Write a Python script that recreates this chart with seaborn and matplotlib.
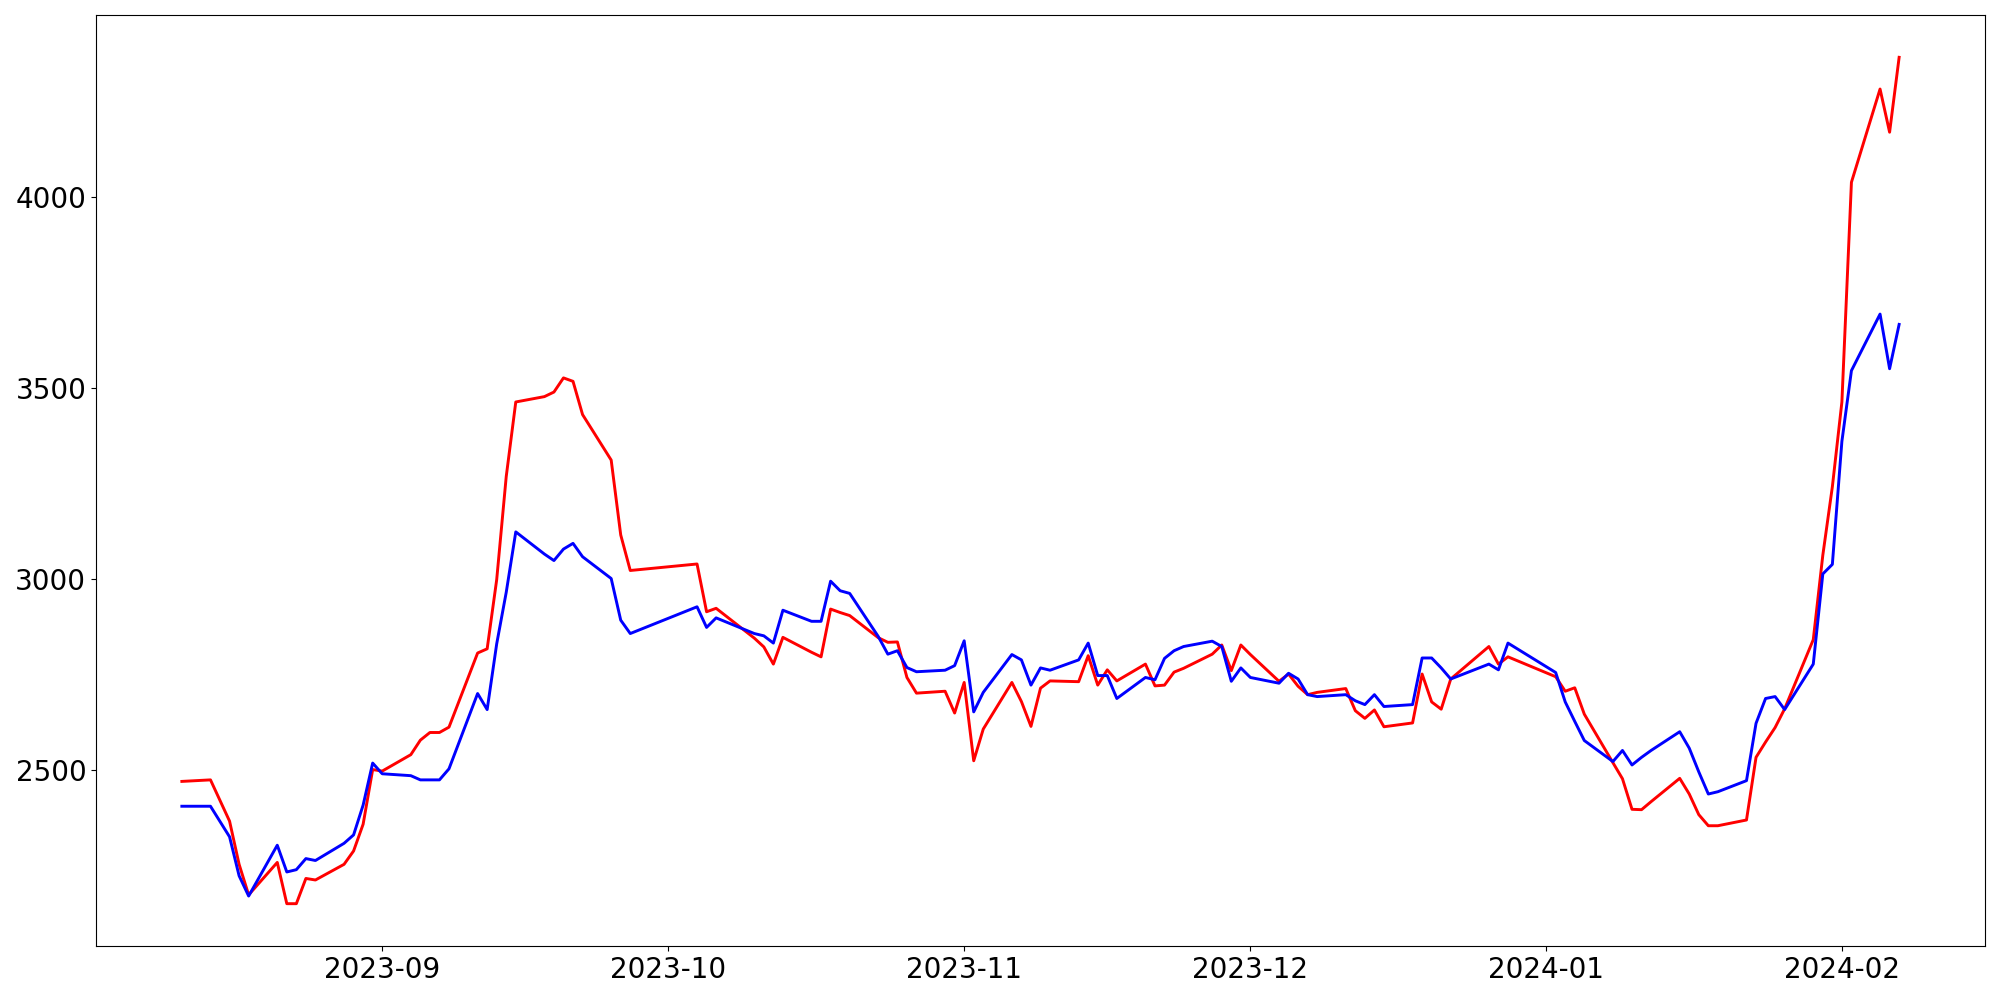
import pandas as pd
import seaborn as sns
import matplotlib.pyplot as plt

dates = [
    "2023-08-11", "2023-08-14", "2023-08-16", "2023-08-17", "2023-08-18",
    "2023-08-21", "2023-08-22", "2023-08-23", "2023-08-24", "2023-08-25",
    "2023-08-28", "2023-08-29", "2023-08-30", "2023-08-31", "2023-09-01",
    "2023-09-04", "2023-09-05", "2023-09-06", "2023-09-07", "2023-09-08",
    "2023-09-11", "2023-09-12", "2023-09-13", "2023-09-14", "2023-09-15",
    "2023-09-18", "2023-09-19", "2023-09-20", "2023-09-21", "2023-09-22",
    "2023-09-25", "2023-09-26", "2023-09-27", "2023-10-04", "2023-10-05",
    "2023-10-06", "2023-10-10", "2023-10-11", "2023-10-12", "2023-10-13",
    "2023-10-16", "2023-10-17", "2023-10-18", "2023-10-19", "2023-10-20",
    "2023-10-23", "2023-10-24", "2023-10-25", "2023-10-26", "2023-10-27",
    "2023-10-30", "2023-10-31", "2023-11-01", "2023-11-02", "2023-11-03",
    "2023-11-06", "2023-11-07", "2023-11-08", "2023-11-09", "2023-11-10",
    "2023-11-13", "2023-11-14", "2023-11-15", "2023-11-16", "2023-11-17",
    "2023-11-20", "2023-11-21", "2023-11-22", "2023-11-23", "2023-11-24",
    "2023-11-27", "2023-11-28", "2023-11-29", "2023-11-30", "2023-12-01",
    "2023-12-04", "2023-12-05", "2023-12-06", "2023-12-07", "2023-12-08",
    "2023-12-11", "2023-12-12", "2023-12-13", "2023-12-14", "2023-12-15",
    "2023-12-18", "2023-12-19", "2023-12-20", "2023-12-21", "2023-12-22",
    "2023-12-26", "2023-12-27", "2023-12-28", "2024-01-02", "2024-01-03",
    "2024-01-04", "2024-01-05", "2024-01-08", "2024-01-09", "2024-01-10",
    "2024-01-11", "2024-01-12", "2024-01-15", "2024-01-16", "2024-01-17",
    "2024-01-18", "2024-01-19", "2024-01-22", "2024-01-23", "2024-01-24",
    "2024-01-25", "2024-01-26", "2024-01-29", "2024-01-30", "2024-01-31",
    "2024-02-01", "2024-02-02", "2024-02-05", "2024-02-06", "2024-02-07",
]

red_values = [
    2470, 2474, 2366, 2253, 2173,
    2258, 2150, 2150, 2216, 2212,
    2253, 2288, 2358, 2501, 2497,
    2540, 2578, 2598, 2598, 2612,
    2806, 2817, 2998, 3268, 3463,
    3477, 3489, 3526, 3517, 3430,
    3311, 3115, 3022, 3039, 2914,
    2923, 2845, 2822, 2777, 2847,
    2808, 2796, 2921, 2912, 2904,
    2846, 2834, 2835, 2742, 2701,
    2706, 2649, 2729, 2524, 2607,
    2729, 2679, 2614, 2714, 2733,
    2731, 2799, 2722, 2762, 2733,
    2777, 2720, 2722, 2756, 2766,
    2803, 2827, 2760, 2827, 2802,
    2732, 2751, 2719, 2697, 2703,
    2713, 2655, 2635, 2657, 2613,
    2623, 2751, 2678, 2659, 2738,
    2823, 2777, 2796, 2744, 2706,
    2715, 2646, 2519, 2477, 2397,
    2396, 2417, 2478, 2437, 2383,
    2354, 2354, 2369, 2533, 2573,
    2611, 2660, 2841, 3062, 3241,
    3463, 4038, 4282, 4169, 4365,
]

blue_values = [
    2405, 2405, 2325, 2223, 2170,
    2303, 2233, 2239, 2268, 2263,
    2308, 2330, 2408, 2518, 2490,
    2485, 2474, 2474, 2474, 2503,
    2700, 2658, 2830, 2965, 3123,
    3065, 3048, 3078, 3093, 3058,
    3001, 2892, 2857, 2927, 2873,
    2898, 2857, 2851, 2832, 2918,
    2889, 2889, 2994, 2969, 2962,
    2849, 2803, 2812, 2768, 2757,
    2761, 2773, 2838, 2652, 2703,
    2802, 2788, 2722, 2767, 2761,
    2788, 2832, 2747, 2747, 2687,
    2742, 2736, 2792, 2812, 2823,
    2837, 2823, 2732, 2767, 2742,
    2727, 2753, 2738, 2697, 2692,
    2697, 2681, 2671, 2697, 2666,
    2671, 2793, 2793, 2767, 2738,
    2777, 2762, 2832, 2755, 2678,
    2627, 2577, 2522, 2551, 2513,
    2533, 2551, 2600, 2557, 2495,
    2437, 2443, 2472, 2622, 2687,
    2692, 2658, 2777, 3013, 3038,
    3360, 3545, 3693, 3550, 3666,
]

df = pd.DataFrame({
    "date": pd.to_datetime(dates),
    "red": red_values,
    "blue": blue_values,
})

fig, ax = plt.subplots(figsize=(20, 10), dpi=100)

sns.lineplot(data=df, x="date", y="red", color="red", linewidth=2.1, ax=ax)
sns.lineplot(data=df, x="date", y="blue", color="blue", linewidth=2.1, ax=ax)

ax.set_xlabel("")
ax.set_ylabel("")
ax.set_yticks([2500, 3000, 3500, 4000])
ax.tick_params(axis="both", labelsize=20)

plt.subplots_adjust(left=0.048, right=0.9925, bottom=0.054, top=0.985)
plt.savefig("out.png")
